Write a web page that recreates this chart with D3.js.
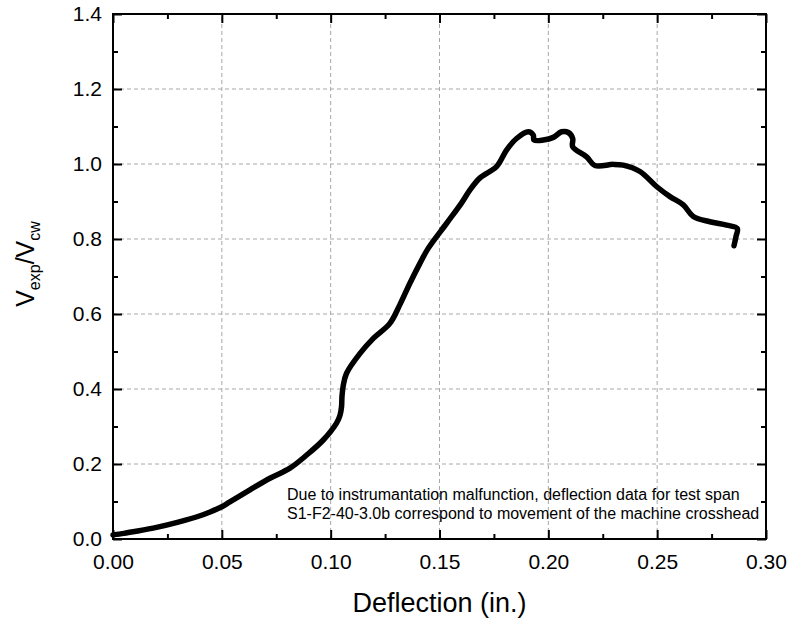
<!DOCTYPE html>
<html>
<head>
<meta charset="utf-8">
<script src="https://cdn.jsdelivr.net/npm/d3@7"></script>
<style>
  body { margin: 0; background: #fff; }
  text { font-family: Arial, "Liberation Sans", sans-serif; }
</style>
</head>
<body>
<div id="container"></div>
<script>
/* DATA */
const deflection = [0.000, 0.005, 0.010, 0.020, 0.030, 0.040, 0.0446, 0.050, 0.0537, 0.0629, 0.0721, 0.0813,
  0.0890, 0.0966, 0.1027, 0.1043, 0.1050, 0.1052, 0.1058, 0.1073, 0.1135, 0.1196, 0.1272, 0.1318,
  0.1364, 0.1410, 0.1448, 0.1533, 0.1600, 0.1640, 0.1686, 0.1762, 0.1808, 0.1854, 0.1908, 0.1931,
  0.1934, 0.1977, 0.2023, 0.2061, 0.2092, 0.2112, 0.2112, 0.2176, 0.2214, 0.2298, 0.2344, 0.2421,
  0.2497, 0.2559, 0.2620, 0.2666, 0.2742, 0.2819, 0.2868, 0.2862, 0.2853];
const ratio = [0.011, 0.015, 0.020, 0.031, 0.045, 0.062, 0.072, 0.086, 0.099, 0.131, 0.162, 0.189,
  0.224, 0.264, 0.309, 0.330, 0.353, 0.380, 0.410, 0.442, 0.495, 0.535, 0.575, 0.625,
  0.682, 0.735, 0.775, 0.842, 0.895, 0.931, 0.963, 0.993, 1.037, 1.068, 1.086, 1.077,
  1.064, 1.064, 1.071, 1.086, 1.084, 1.068, 1.046, 1.019, 0.996, 0.999, 0.997, 0.980,
  0.940, 0.913, 0.891, 0.860, 0.846, 0.837, 0.828, 0.806, 0.782];
const xTicks = [0, 0.05, 0.10, 0.15, 0.20, 0.25, 0.30];
const yTicks = [0, 0.2, 0.4, 0.6, 0.8, 1.0, 1.2, 1.4];
const note = ["Due to instrumantation malfunction, deflection data for test span",
  "S1-F2-40-3.0b correspond to movement of the machine crosshead"];

/* LAYOUT */
const width = 792, height = 622,
  margin = { top: 14, right: 26, bottom: 83, left: 113 };

const svg = d3.select("#container").append("svg")
  .attr("width", width)
  .attr("height", height);

const xScale = d3.scaleLinear().domain([0, 0.3]).range([margin.left, width - margin.right]);
const yScale = d3.scaleLinear().domain([0, 1.4]).range([height - margin.bottom, margin.top]);

const x0 = xScale.range()[0], x1 = xScale.range()[1];
const y0 = yScale.range()[0], y1 = yScale.range()[1];

// grid
svg.append("g").selectAll("line.vg")
  .data(xTicks.slice(1, -1))
  .join("line")
  .attr("x1", d => xScale(d)).attr("x2", d => xScale(d))
  .attr("y1", y0).attr("y2", y1)
  .attr("stroke", "#a8a8a8").attr("stroke-width", 1).attr("stroke-dasharray", "4,3");
svg.append("g").selectAll("line.hg")
  .data(yTicks.slice(1, -1))
  .join("line")
  .attr("y1", d => yScale(d)).attr("y2", d => yScale(d))
  .attr("x1", x0).attr("x2", x1)
  .attr("stroke", "#a8a8a8").attr("stroke-width", 1).attr("stroke-dasharray", "4,3");

// curve
const line = d3.line()
  .x((d, i) => xScale(d))
  .y((d, i) => yScale(ratio[i]))
  .curve(d3.curveCatmullRom.alpha(0.5));

svg.append("path")
  .datum(deflection)
  .attr("d", line)
  .attr("fill", "none")
  .attr("stroke", "#000")
  .attr("stroke-width", 5.5)
  .attr("stroke-linejoin", "round")
  .attr("stroke-linecap", "round");

// annotation
svg.append("text")
  .attr("x", 287)
  .attr("y", 500)
  .attr("font-size", "16px")
  .attr("fill", "#000")
  .selectAll("tspan")
  .data(note)
  .join("tspan")
  .attr("x", 287)
  .attr("dy", (d, i) => i === 0 ? 0 : 18.5)
  .text(d => d);

// axes
const xMinor = d3.range(0.025, 0.3, 0.05);
const yMinor = d3.range(0.1, 1.4, 0.2);

function styleAxis(g) {
  g.select(".domain").remove();
  g.selectAll(".tick line").attr("stroke", "#000").attr("stroke-width", 2);
  g.selectAll("text").attr("font-size", "21px").attr("fill", "#000")
    .attr("font-family", "Arial, 'Liberation Sans', sans-serif");
}

svg.append("g")
  .attr("transform", `translate(0,${y0})`)
  .call(d3.axisBottom(xScale).tickValues(xTicks).tickSize(-9).tickPadding(15).tickFormat(d3.format(".2f")))
  .call(styleAxis);
svg.append("g")
  .attr("transform", `translate(0,${y0})`)
  .call(d3.axisBottom(xScale).tickValues(xMinor).tickSize(-5).tickFormat(""))
  .call(styleAxis);
svg.append("g")
  .attr("transform", `translate(0,${y1})`)
  .call(d3.axisTop(xScale).tickValues(xTicks).tickSize(-9).tickFormat(""))
  .call(styleAxis);
svg.append("g")
  .attr("transform", `translate(0,${y1})`)
  .call(d3.axisTop(xScale).tickValues(xMinor).tickSize(-5).tickFormat(""))
  .call(styleAxis);

svg.append("g")
  .attr("transform", `translate(${x0},0)`)
  .call(d3.axisLeft(yScale).tickValues(yTicks).tickSize(-9).tickPadding(11).tickFormat(d3.format(".1f")))
  .call(styleAxis);
svg.append("g")
  .attr("transform", `translate(${x0},0)`)
  .call(d3.axisLeft(yScale).tickValues(yMinor).tickSize(-5).tickFormat(""))
  .call(styleAxis);
svg.append("g")
  .attr("transform", `translate(${x1},0)`)
  .call(d3.axisRight(yScale).tickValues(yTicks).tickSize(-9).tickFormat(""))
  .call(styleAxis);
svg.append("g")
  .attr("transform", `translate(${x1},0)`)
  .call(d3.axisRight(yScale).tickValues(yMinor).tickSize(-5).tickFormat(""))
  .call(styleAxis);

// frame
svg.append("rect")
  .attr("x", x0).attr("y", y1)
  .attr("width", x1 - x0).attr("height", y0 - y1)
  .attr("fill", "none").attr("stroke", "#000").attr("stroke-width", 2);

// axis titles
svg.append("text")
  .attr("x", (x0 + x1) / 2)
  .attr("y", 612)
  .attr("text-anchor", "middle")
  .attr("font-size", "27px")
  .attr("fill", "#000")
  .text("Deflection (in.)");

const yTitle = svg.append("text")
  .attr("transform", `translate(34,264) rotate(-90)`)
  .attr("text-anchor", "middle")
  .attr("font-size", "25px")
  .attr("fill", "#000");
yTitle.append("tspan").text("V");
yTitle.append("tspan").attr("font-size", "16px").attr("dy", 6).text("exp");
yTitle.append("tspan").attr("dy", -6).text("/V");
yTitle.append("tspan").attr("font-size", "16px").attr("dy", 6).text("cw");
</script>
</body>
</html>
